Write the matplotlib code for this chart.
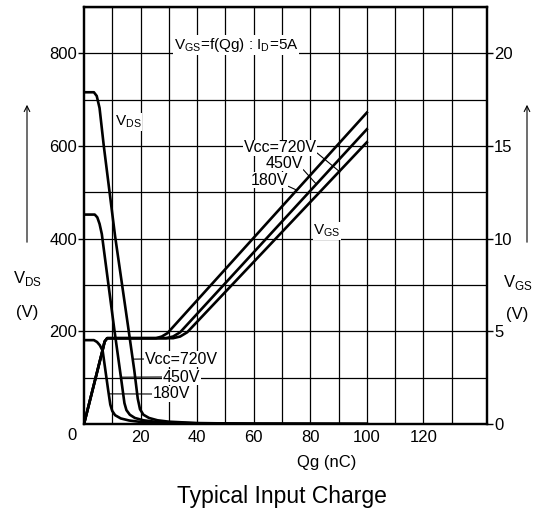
import matplotlib
matplotlib.use('Agg')
import matplotlib.pyplot as plt

# Gate charge Qg (nC) vs VDS (V) for the three supply voltages
qg_vds_720 = [0, 3.5, 4.5, 5.5, 7.0, 11.0, 15.6, 17.8, 19.0, 19.8, 21, 23, 26, 30, 40, 60, 100]
vds_720 = [716, 716, 708, 682, 600, 405, 210, 115, 55, 32, 20, 13, 8, 5, 2, 0.5, 0]

qg_vds_450 = [0, 3.8, 4.7, 5.5, 6.3, 10.7, 13.3, 14.3, 15.0, 16.2, 18, 21, 25, 30, 40, 60, 100]
vds_450 = [452, 452, 446, 432, 410, 205, 90, 45, 30, 20, 13, 8, 5, 3, 1.5, 0.5, 0]

qg_vds_180 = [0, 3.5, 4.6, 5.6, 6.6, 8.5, 9.3, 10.0, 11, 13, 16, 20, 26, 35, 50, 100]
vds_180 = [181, 181, 177, 170, 158, 75, 42, 28, 19, 12, 7.5, 4.5, 2.5, 1.2, 0.5, 0]

# Gate charge Qg (nC) vs VGS (V)
qg_vgs_180 = [0, 6.6, 7.3, 8.2, 25.5, 27.5, 29.5, 100]
vgs_180 = [0, 4.0, 4.45, 4.63, 4.63, 4.72, 4.9, 16.8]

qg_vgs_450 = [0, 6.6, 7.3, 8.2, 29, 31.5, 34, 100]
vgs_450 = [0, 4.0, 4.45, 4.63, 4.63, 4.72, 4.95, 15.9]

qg_vgs_720 = [0, 6.6, 7.3, 8.2, 31.5, 34, 36.5, 100]
vgs_720 = [0, 4.0, 4.45, 4.63, 4.63, 4.72, 4.95, 15.2]

x_ticks = [20, 40, 60, 80, 100, 120]
vds_ticks = [200, 400, 600, 800]
vgs_ticks = [0, 5, 10, 15, 20]

plt.rcParams['font.family'] = ['Liberation Sans', 'DejaVu Sans']
plt.rcParams['mathtext.fontset'] = 'custom'
plt.rcParams['mathtext.rm'] = 'Liberation Sans'

W, H = 537, 515
fig = plt.figure(figsize=(W / 100, H / 100), dpi=100)
ax = fig.add_axes([84 / W, 1 - 424 / H, 403 / W, 417 / H])
ax2 = ax.twinx()

ax.set_xlim(0, 142.5)
ax.set_ylim(0, 900)
ax2.set_ylim(0, 22.5)

# grid every 10 nC / 100 V
ax.set_xticks(x_ticks)
ax.set_yticks(vds_ticks)
ax.set_xticks(range(10, 131, 10), minor=True)
ax.set_yticks(range(100, 901, 100), minor=True)
ax.grid(True, which='both', color='black', lw=0.9)
ax2.set_yticks(vgs_ticks)
ax.tick_params(which='minor', length=0)
ax.tick_params(axis='x', which='major', length=0, labelsize=12, pad=4)
ax.tick_params(axis='y', which='major', length=4, width=1, labelsize=12, pad=1)
ax2.tick_params(axis='y', length=4, width=1, labelsize=12, pad=1)

for a in (ax, ax2):
  for s in a.spines.values():
    s.set_linewidth(1.6)

lw = 1.9
ax.plot(qg_vds_720, vds_720, color='black', lw=lw)
ax.plot(qg_vds_450, vds_450, color='black', lw=lw)
ax.plot(qg_vds_180, vds_180, color='black', lw=lw)
ax2.plot(qg_vgs_180, vgs_180, color='black', lw=lw)
ax2.plot(qg_vgs_450, vgs_450, color='black', lw=lw)
ax2.plot(qg_vgs_720, vgs_720, color='black', lw=lw)

ax.annotate('0', xy=(0, 0), xytext=(-7, -4), textcoords='offset pixels',
            ha='right', va='top', fontsize=12)

def fx(px):
  return px / W

def fy(py):
  return 1 - py / H

wb = dict(facecolor='white', edgecolor='none', pad=0.5)

fig.text(fx(236), fy(45), r'V$_{\rm GS}$=f(Qg) : I$_{\rm D}$=5A', ha='center', va='center',
         fontsize=11, bbox=wb)
fig.text(fx(128), fy(122), r'V$_{\rm DS}$', ha='center', va='center', fontsize=11, bbox=wb)
fig.text(fx(327), fy(231), r'V$_{\rm GS}$', ha='center', va='center', fontsize=11, bbox=wb)

# VGS curve labels with leaders
lead = dict(arrowstyle='-', color='black', lw=0.8, shrinkA=0, shrinkB=0)
ax2.annotate('Vcc=720V', xy=(90.5, 13.6), xytext=(fx(280), fy(148)), textcoords='figure fraction',
             ha='center', va='center', fontsize=11.5, bbox=wb,
             arrowprops=dict(lead, relpos=(1, 0.2)))
ax2.annotate('450V', xy=(82.1, 12.95), xytext=(fx(284), fy(163)), textcoords='figure fraction',
             ha='center', va='center', fontsize=11.5, bbox=wb,
             arrowprops=dict(lead, relpos=(1, 0.1)))
ax2.annotate('180V', xy=(75.5, 12.6), xytext=(fx(269), fy(180)), textcoords='figure fraction',
             ha='center', va='center', fontsize=11.5, bbox=wb,
             arrowprops=dict(lead, relpos=(1, 0.1)))

# VDS curve labels with leaders
ax.annotate('Vcc=720V', xy=(17.4, 140), xytext=(fx(145), fy(359)), textcoords='figure fraction',
            ha='left', va='center', fontsize=11.5, bbox=wb,
            arrowprops=dict(lead, relpos=(0, 0.5)))
ax.annotate('450V', xy=(13.1, 101), xytext=(fx(163), fy(377)), textcoords='figure fraction',
            ha='left', va='center', fontsize=11.5, bbox=wb,
            arrowprops=dict(lead, relpos=(0, 0.5)))
ax.annotate('180V', xy=(8.9, 65), xytext=(fx(153), fy(394)), textcoords='figure fraction',
            ha='left', va='center', fontsize=11.5, bbox=wb,
            arrowprops=dict(lead, relpos=(0, 0.5)))

# axis captions outside the plot
arrow = dict(arrowstyle='->', color='black', lw=0.8)
fig.add_artist(matplotlib.patches.FancyArrowPatch((fx(27), fy(245)), (fx(27), fy(102)),
               transform=fig.transFigure, mutation_scale=10, **arrow))
fig.add_artist(matplotlib.patches.FancyArrowPatch((fx(527), fy(245)), (fx(527), fy(102)),
               transform=fig.transFigure, mutation_scale=10, **arrow))
fig.text(fx(27), fy(278), r'V$_{\rm DS}$', ha='center', va='center', fontsize=12)
fig.text(fx(27), fy(313), '(V)', ha='center', va='center', fontsize=12)
fig.text(fx(518), fy(282), r'V$_{\rm GS}$', ha='center', va='center', fontsize=12)
fig.text(fx(517), fy(315), '(V)', ha='center', va='center', fontsize=12)

fig.text(fx(327), fy(463), 'Qg (nC)', ha='center', va='center', fontsize=12)
fig.text(fx(282), fy(497), 'Typical Input Charge', ha='center', va='center', fontsize=16.5)

fig.savefig('out.png', dpi=100)
